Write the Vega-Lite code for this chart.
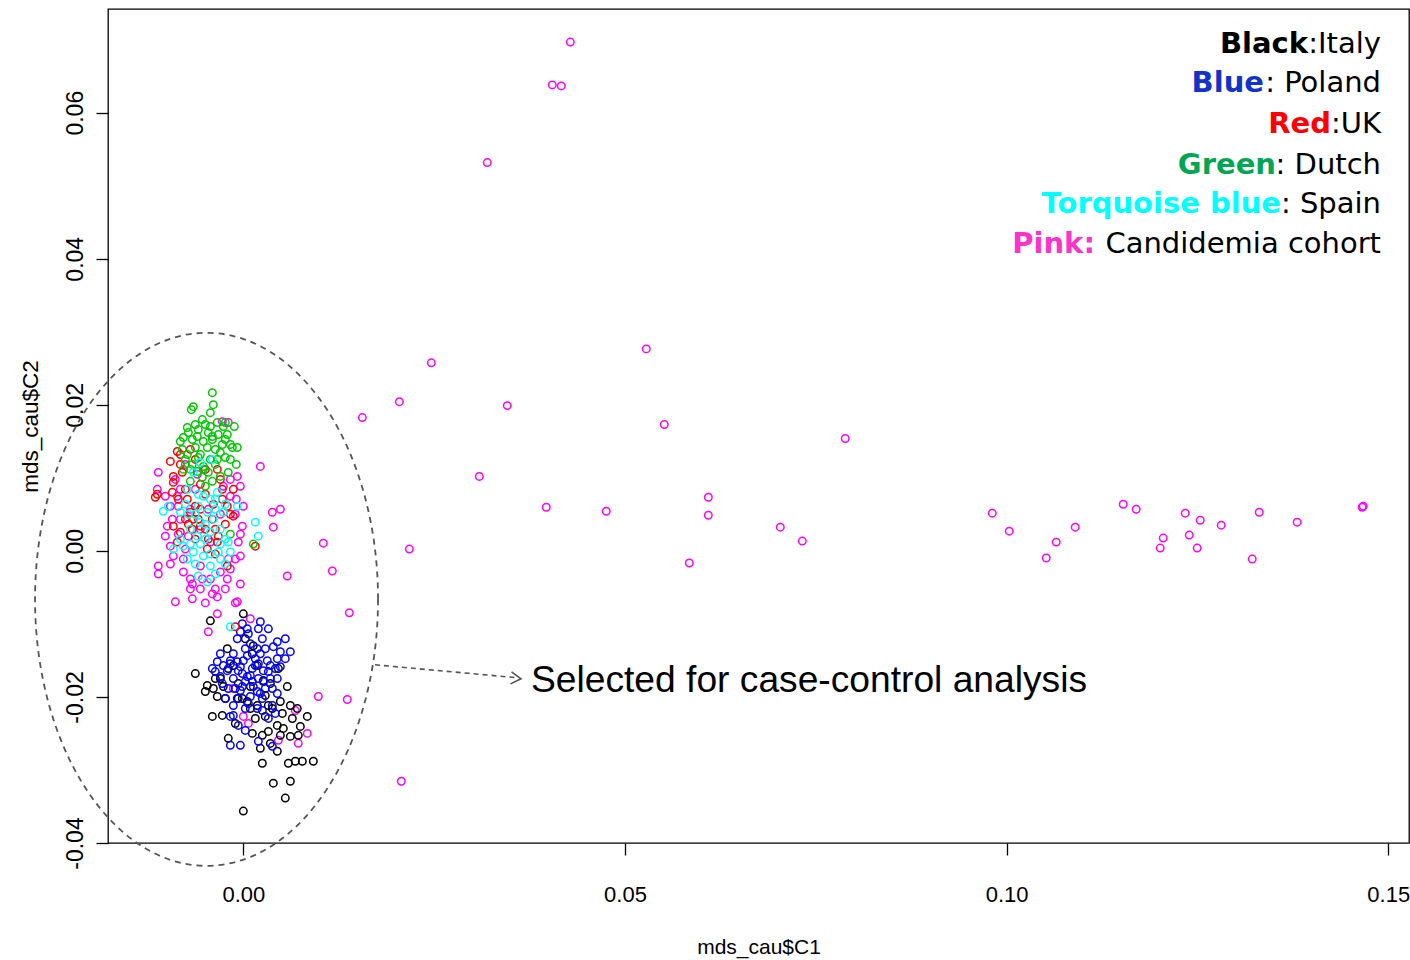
{
  "$schema": "https://vega.github.io/schema/vega-lite/v6.json",
  "width": 1301,
  "height": 834,
  "autosize": {"type": "none"},
  "padding": {"left": 108, "top": 9, "right": 1, "bottom": 117},
  "background": "white",
  "config": {
    "view": {"stroke": "#000000", "strokeWidth": 1.3},
    "axis": {"grid": false, "domain": false, "tickColor": "#000000", "tickWidth": 1.3, "tickSize": 12, "labelColor": "#000000", "titleColor": "#000000", "labelFont": "Liberation Sans, Arial, sans-serif", "titleFont": "Liberation Sans, Arial, sans-serif", "titleFontWeight": "normal", "labelOverlap": false, "labelFlush": false}
  },
  "datasets": {
    "pts": [
      {"x":0.04284,"y":0.06967,"g":"Candidemia"},{"x":0.04048,"y":0.06381,"g":"Candidemia"},{"x":0.04166,"y":0.06367,"g":"Candidemia"},{"x":0.03196,"y":0.05317,"g":"Candidemia"},{"x":0.02463,"y":0.02575,"g":"Candidemia"},{"x":0.05279,"y":0.02766,"g":"Candidemia"},{"x":0.02044,"y":0.02043,"g":"Candidemia"},{"x":0.01559,"y":0.01825,"g":"Candidemia"},{"x":0.03458,"y":0.01989,"g":"Candidemia"},{"x":0.05515,"y":0.0173,"g":"Candidemia"},{"x":0.03092,"y":0.0102,"g":"Candidemia"},{"x":0.03969,"y":0.00597,"g":"Candidemia"},{"x":0.04755,"y":0.00543,"g":"Candidemia"},{"x":0.05843,"y":-0.00166,"g":"Candidemia"},{"x":0.06092,"y":0.00734,"g":"Candidemia"},{"x":0.06092,"y":0.00488,"g":"Candidemia"},{"x":0.07035,"y":0.00325,"g":"Candidemia"},{"x":0.07323,"y":0.00134,"g":"Candidemia"},{"x":0.07886,"y":0.01539,"g":"Candidemia"},{"x":0.09812,"y":0.00516,"g":"Candidemia"},{"x":0.10035,"y":0.0027,"g":"Candidemia"},{"x":0.1065,"y":0.0012,"g":"Candidemia"},{"x":0.10519,"y":-0.00098,"g":"Candidemia"},{"x":0.10899,"y":0.00325,"g":"Candidemia"},{"x":0.11528,"y":0.00638,"g":"Candidemia"},{"x":0.11698,"y":0.0057,"g":"Candidemia"},{"x":0.12013,"y":0.00038,"g":"Candidemia"},{"x":0.12052,"y":0.00175,"g":"Candidemia"},{"x":0.1234,"y":0.00516,"g":"Candidemia"},{"x":0.12393,"y":0.00216,"g":"Candidemia"},{"x":0.12497,"y":0.00038,"g":"Candidemia"},{"x":0.12537,"y":0.0042,"g":"Candidemia"},{"x":0.12812,"y":0.00352,"g":"Candidemia"},{"x":0.13218,"y":-0.00112,"g":"Candidemia"},{"x":0.1331,"y":0.00529,"g":"Candidemia"},{"x":0.13807,"y":0.00393,"g":"Candidemia"},{"x":0.14659,"y":0.00597,"g":"Candidemia"},{"x":0.14672,"y":0.00611,"g":"Candidemia"},{"x":0.01048,"y":0.00106,"g":"Candidemia"},{"x":0.01166,"y":-0.00276,"g":"Candidemia"},{"x":0.02175,"y":0.00025,"g":"Candidemia"},{"x":0.00576,"y":-0.00344,"g":"Candidemia"},{"x":0.01389,"y":-0.00848,"g":"Candidemia"},{"x":0.00983,"y":-0.01994,"g":"Candidemia"},{"x":0.01362,"y":-0.02035,"g":"Candidemia"},{"x":0.0207,"y":-0.03154,"g":"Candidemia"},{"x":0.00223,"y":0.01157,"g":"Candidemia"},{"x":0.00485,"y":0.0057,"g":"Candidemia"},{"x":0.0038,"y":0.00529,"g":"Candidemia"},{"x":0.00393,"y":0.00325,"g":"Candidemia"},{"x":0.00838,"y":-0.02499,"g":"Candidemia"},{"x":0.0072,"y":-0.02635,"g":"Candidemia"},{"x":0.00459,"y":-0.02594,"g":"Candidemia"},{"x":0.00681,"y":-0.02185,"g":"Candidemia"},{"x":0,"y":-0.02267,"g":"Candidemia"},{"x":0.00066,"y":-0.02362,"g":"Candidemia"},{"x":-0.00131,"y":-0.01885,"g":"Candidemia"},{"x":-0.00668,"y":-0.00657,"g":"Candidemia"},{"x":-0.00498,"y":-0.00712,"g":"Candidemia"},{"x":-0.00105,"y":-0.00712,"g":"Candidemia"},{"x":-0.00341,"y":-0.00862,"g":"Candidemia"},{"x":0.00092,"y":-0.0093,"g":"Candidemia"},{"x":-0.00459,"y":-0.01108,"g":"Candidemia"},
      {"x":-0.01114,"y":0.01075,"g":"Candidemia"},{"x":-0.01127,"y":0.00843,"g":"Candidemia"},{"x":-0.01114,"y":-0.00207,"g":"Candidemia"},{"x":-0.01114,"y":-0.00316,"g":"Candidemia"},{"x":-0.00891,"y":-0.00698,"g":"Candidemia"},{"x":-0.00694,"y":-0.00521,"g":"Candidemia"},{"x":-0.00341,"y":-0.0063,"g":"Candidemia"},{"x":-0.00079,"y":-0.00698,"g":"Candidemia"},{"x":-0.00039,"y":-0.00453,"g":"Candidemia"},{"x":-0.0021,"y":-0.00385,"g":"Candidemia"},{"x":-0.00367,"y":-0.00521,"g":"Candidemia"},{"x":-0.00197,"y":-0.00112,"g":"Candidemia"},{"x":-0.00039,"y":-0.00071,"g":"Candidemia"},{"x":-0.00066,"y":0.0012,"g":"Candidemia"},{"x":-0.00013,"y":0.00338,"g":"Candidemia"},{"x":-0.00996,"y":0.00338,"g":"Candidemia"},{"x":-0.01022,"y":0.00202,"g":"Candidemia"},{"x":-0.00956,"y":0.00065,"g":"Candidemia"},{"x":-0.00917,"y":-0.00071,"g":"Candidemia"},{"x":-0.00786,"y":-0.00289,"g":"Candidemia"},{"x":-0.00694,"y":-0.00385,"g":"Candidemia"},{"x":-0.00537,"y":-0.00385,"g":"Candidemia"},{"x":-0.00891,"y":0.00979,"g":"Candidemia"},{"x":-0.00825,"y":0.00843,"g":"Candidemia"},{"x":-0.0017,"y":0.00979,"g":"Candidemia"},{"x":-0.00079,"y":0.0102,"g":"Candidemia"},{"x":-0.00039,"y":0.00884,"g":"Candidemia"},{"x":0,"y":0.00611,"g":"Candidemia"},{"x":-0.00197,"y":0.01757,"g":"Candidemia"},{"x":-0.00275,"y":0.0177,"g":"Candidemia"},{"x":-0.0093,"y":0.00434,"g":"Candidemia"},{"x":-0.00852,"y":0.00611,"g":"Candidemia"},{"x":-0.0072,"y":0.00202,"g":"Candidemia"},{"x":-0.00432,"y":0.0012,"g":"Candidemia"},{"x":-0.00301,"y":-0.00289,"g":"Candidemia"},{"x":-0.00563,"y":-0.00207,"g":"Candidemia"},{"x":-0.00786,"y":-0.00112,"g":"Candidemia"},{"x":-0.0017,"y":0.00747,"g":"Candidemia"},{"x":-0.00262,"y":0.00884,"g":"Candidemia"},{"x":-0.00629,"y":0.00843,"g":"Candidemia"},{"x":-0.00459,"y":0.0057,"g":"Candidemia"},{"x":-0.00694,"y":0.0057,"g":"Candidemia"},{"x":-0.00956,"y":0.00611,"g":"Candidemia"},{"x":-0.00865,"y":0.00747,"g":"Candidemia"},{"x":-0.00563,"y":0.00297,"g":"Candidemia"},{"x":-0.00301,"y":0.00502,"g":"Candidemia"},{"x":-0.0076,"y":0.00025,"g":"Candidemia"},{"x":-0.00105,"y":-0.00112,"g":"Candidemia"},{"x":-0.00432,"y":-0.00385,"g":"Candidemia"},{"x":-0.00236,"y":-0.00521,"g":"Candidemia"},{"x":-0.00825,"y":0.00434,"g":"Candidemia"},{"x":-0.00039,"y":0.00229,"g":"Candidemia"},{"x":-0.00105,"y":0.00502,"g":"Candidemia"},{"x":-0.00563,"y":-0.00521,"g":"Candidemia"},
      {"x":-0.0076,"y":0.01184,"g":"Candidemia"},{"x":-0.00852,"y":0.00229,"g":"Candidemia"},{"x":-0.00668,"y":-0.00453,"g":"Candidemia"},{"x":-0.0017,"y":-0.00248,"g":"Candidemia"},{"x":-0.00406,"y":-0.00589,"g":"Candidemia"},{"x":-0.00956,"y":-0.0018,"g":"Candidemia"},{"x":-0.00092,"y":0.00707,"g":"Candidemia"},{"x":-0.01022,"y":0.00748,"g":"Candidemia"},{"x":-0.00603,"y":0.01048,"g":"Candidemia"},
      {"x":0,"y":-0.00862,"g":"Italy"},{"x":-0.00432,"y":-0.00958,"g":"Italy"},{"x":-0.00629,"y":-0.0168,"g":"Italy"},{"x":-0.00472,"y":-0.01844,"g":"Italy"},{"x":-0.00498,"y":-0.01926,"g":"Italy"},{"x":-0.00341,"y":-0.01994,"g":"Italy"},{"x":-0.00406,"y":-0.02267,"g":"Italy"},{"x":-0.00275,"y":-0.02253,"g":"Italy"},{"x":-0.0021,"y":-0.01339,"g":"Italy"},{"x":-0.00197,"y":-0.01612,"g":"Italy"},{"x":-0.00066,"y":-0.01817,"g":"Italy"},{"x":0.00118,"y":-0.01408,"g":"Italy"},{"x":0.00092,"y":-0.01858,"g":"Italy"},{"x":0.00262,"y":-0.01776,"g":"Italy"},{"x":0.00354,"y":-0.01817,"g":"Italy"},{"x":0.00459,"y":-0.01612,"g":"Italy"},{"x":0.00576,"y":-0.01858,"g":"Italy"},{"x":0.00485,"y":-0.02062,"g":"Italy"},{"x":0.00616,"y":-0.02117,"g":"Italy"},{"x":0.00707,"y":-0.02158,"g":"Italy"},{"x":0.00838,"y":-0.02267,"g":"Italy"},{"x":0.00328,"y":-0.02117,"g":"Italy"},{"x":0.00183,"y":-0.02117,"g":"Italy"},{"x":0.00288,"y":-0.02267,"g":"Italy"},{"x":0.00445,"y":-0.0239,"g":"Italy"},{"x":0.00524,"y":-0.02431,"g":"Italy"},{"x":0.00328,"y":-0.02472,"g":"Italy"},{"x":0.00249,"y":-0.02526,"g":"Italy"},{"x":0.00118,"y":-0.02499,"g":"Italy"},{"x":0.00485,"y":-0.02526,"g":"Italy"},{"x":0.00616,"y":-0.0254,"g":"Italy"},{"x":0.0072,"y":-0.02526,"g":"Italy"},{"x":-0.00197,"y":-0.02567,"g":"Italy"},{"x":0.00445,"y":-0.02744,"g":"Italy"},{"x":0.00249,"y":-0.02908,"g":"Italy"},{"x":0.0059,"y":-0.02908,"g":"Italy"},{"x":0.00681,"y":-0.02881,"g":"Italy"},{"x":0.00773,"y":-0.02881,"g":"Italy"},{"x":0.00917,"y":-0.02881,"g":"Italy"},{"x":0.00393,"y":-0.03181,"g":"Italy"},{"x":0.00616,"y":-0.03154,"g":"Italy"},{"x":0.0055,"y":-0.03385,"g":"Italy"},{"x":0,"y":-0.03563,"g":"Italy"},{"x":-0.00079,"y":-0.02021,"g":"Italy"},{"x":0.00052,"y":-0.02062,"g":"Italy"},{"x":-0.00393,"y":-0.01885,"g":"Italy"},{"x":-0.00262,"y":-0.01858,"g":"Italy"},{"x":0.00026,"y":-0.01203,"g":"Italy"},{"x":0.00131,"y":-0.01299,"g":"Italy"},{"x":-0.00131,"y":-0.01571,"g":"Italy"},{"x":-0.00301,"y":-0.01749,"g":"Italy"},{"x":-0.00013,"y":-0.02021,"g":"Italy"},{"x":0.0038,"y":-0.02158,"g":"Italy"},{"x":0.00511,"y":-0.02226,"g":"Italy"},{"x":0.00092,"y":-0.02158,"g":"Italy"},{"x":0.00183,"y":-0.01571,"g":"Italy"},{"x":0.00288,"y":-0.01981,"g":"Italy"},
      {"x":-0.00236,"y":-0.02022,"g":"Italy"},{"x":-0.00105,"y":-0.02363,"g":"Italy"},{"x":0.00157,"y":-0.02295,"g":"Italy"},{"x":0.00354,"y":-0.02636,"g":"Italy"},{"x":0.00642,"y":-0.02295,"g":"Italy"},{"x":0.00747,"y":-0.02404,"g":"Italy"},{"x":-0.00367,"y":-0.01749,"g":"Italy"},{"x":0.00223,"y":-0.02704,"g":"Italy"},
      {"x":-0.00013,"y":-0.00998,"g":"Poland"},{"x":0.00223,"y":-0.00971,"g":"Poland"},{"x":0.00328,"y":-0.01067,"g":"Poland"},{"x":0.00066,"y":-0.01135,"g":"Poland"},{"x":-0.00079,"y":-0.01203,"g":"Poland"},{"x":0.00249,"y":-0.01203,"g":"Poland"},{"x":0.00445,"y":-0.01244,"g":"Poland"},{"x":0.0055,"y":-0.01203,"g":"Poland"},{"x":0.00616,"y":-0.0138,"g":"Poland"},{"x":0.00393,"y":-0.01312,"g":"Poland"},{"x":0.00183,"y":-0.01339,"g":"Poland"},{"x":0.00026,"y":-0.01339,"g":"Poland"},{"x":-0.00131,"y":-0.01408,"g":"Poland"},{"x":-0.00301,"y":-0.01408,"g":"Poland"},{"x":-0.00341,"y":-0.01517,"g":"Poland"},{"x":-0.0017,"y":-0.01503,"g":"Poland"},{"x":0,"y":-0.01503,"g":"Poland"},{"x":0.00157,"y":-0.01476,"g":"Poland"},{"x":0.00314,"y":-0.01503,"g":"Poland"},{"x":0.00445,"y":-0.01476,"g":"Poland"},{"x":0.00419,"y":-0.01612,"g":"Poland"},{"x":0.00262,"y":-0.0164,"g":"Poland"},{"x":0.00118,"y":-0.01612,"g":"Poland"},{"x":-0.00066,"y":-0.0164,"g":"Poland"},{"x":-0.0021,"y":-0.0164,"g":"Poland"},{"x":-0.00406,"y":-0.01612,"g":"Poland"},{"x":-0.00301,"y":-0.01721,"g":"Poland"},{"x":-0.00131,"y":-0.01749,"g":"Poland"},{"x":0.00052,"y":-0.01721,"g":"Poland"},{"x":0.00197,"y":-0.01749,"g":"Poland"},{"x":0.00354,"y":-0.01749,"g":"Poland"},{"x":0.00445,"y":-0.01953,"g":"Poland"},{"x":0.00288,"y":-0.01885,"g":"Poland"},{"x":0.00131,"y":-0.01858,"g":"Poland"},{"x":-0.00013,"y":-0.01858,"g":"Poland"},{"x":-0.00197,"y":-0.01885,"g":"Poland"},{"x":-0.00236,"y":-0.02021,"g":"Poland"},{"x":-0.00066,"y":-0.02021,"g":"Poland"},{"x":0.00092,"y":-0.01994,"g":"Poland"},{"x":0.00249,"y":-0.02021,"g":"Poland"},{"x":0.0038,"y":-0.02117,"g":"Poland"},{"x":0.00183,"y":-0.02158,"g":"Poland"},{"x":0.00026,"y":-0.02158,"g":"Poland"},{"x":-0.00131,"y":-0.02253,"g":"Poland"},{"x":-0.00066,"y":-0.0239,"g":"Poland"},{"x":0.00026,"y":-0.02458,"g":"Poland"},{"x":-0.0017,"y":-0.02663,"g":"Poland"},{"x":-0.00039,"y":-0.02663,"g":"Poland"},{"x":0.00197,"y":-0.02608,"g":"Poland"},{"x":0.0038,"y":-0.02676,"g":"Poland"},{"x":0.00419,"y":-0.02226,"g":"Poland"},{"x":0.00328,"y":-0.02294,"g":"Poland"},{"x":-0.0017,"y":-0.02267,"g":"Poland"},{"x":0.00092,"y":-0.01708,"g":"Poland"},{"x":0.00157,"y":-0.01571,"g":"Poland"},{"x":0.00052,"y":-0.01435,"g":"Poland"},{"x":0.00223,"y":-0.01408,"g":"Poland"},{"x":-0.00262,"y":-0.01571,"g":"Poland"},{"x":-0.00367,"y":-0.01653,"g":"Poland"},{"x":0.00262,"y":-0.0179,"g":"Poland"},{"x":-0.00013,"y":-0.0168,"g":"Poland"},{"x":-0.00079,"y":-0.01517,"g":"Poland"},{"x":0.00354,"y":-0.01571,"g":"Poland"},{"x":0.00445,"y":-0.01749,"g":"Poland"},{"x":0.00118,"y":-0.0179,"g":"Poland"},{"x":-0.00039,"y":-0.01912,"g":"Poland"},{"x":0.00183,"y":-0.01926,"g":"Poland"},{"x":-0.00131,"y":-0.02117,"g":"Poland"},{"x":0.00052,"y":-0.01067,"g":"Poland"},{"x":-0.00039,"y":-0.01108,"g":"Poland"},{"x":0.00197,"y":-0.01067,"g":"Poland"},{"x":0.00485,"y":-0.0138,"g":"Poland"},
      {"x":0.00092,"y":-0.01271,"g":"Poland"},{"x":0.00288,"y":-0.0134,"g":"Poland"},{"x":-0.00039,"y":-0.01585,"g":"Poland"},{"x":0.00197,"y":-0.01544,"g":"Poland"},{"x":0.00328,"y":-0.01653,"g":"Poland"},{"x":0.00026,"y":-0.0179,"g":"Poland"},{"x":0.00223,"y":-0.01953,"g":"Poland"},{"x":-0.00105,"y":-0.01885,"g":"Poland"},{"x":0.0038,"y":-0.01885,"g":"Poland"},{"x":0.00066,"y":-0.0209,"g":"Poland"},{"x":-0.0017,"y":-0.01544,"g":"Poland"},{"x":-0.00275,"y":-0.01817,"g":"Poland"},{"x":0.00249,"y":-0.02185,"g":"Poland"},{"x":0.00485,"y":-0.01585,"g":"Poland"},{"x":0.0055,"y":-0.01476,"g":"Poland"},
      {"x":-0.01153,"y":0.00734,"g":"UK"},{"x":-0.01127,"y":0.00775,"g":"UK"},{"x":-0.00956,"y":0.01225,"g":"UK"},{"x":-0.00865,"y":0.01361,"g":"UK"},{"x":-0.00917,"y":0.00938,"g":"UK"},{"x":-0.0093,"y":0.00802,"g":"UK"},{"x":-0.00825,"y":0.01184,"g":"UK"},{"x":-0.00799,"y":0.01075,"g":"UK"},{"x":-0.00917,"y":0.0102,"g":"UK"},{"x":-0.00734,"y":0.00707,"g":"UK"},{"x":-0.00694,"y":0.00529,"g":"UK"},{"x":-0.00655,"y":0.00434,"g":"UK"},{"x":-0.00825,"y":0.00256,"g":"UK"},{"x":-0.00865,"y":0.0012,"g":"UK"},{"x":-0.00563,"y":0.00338,"g":"UK"},{"x":-0.00341,"y":0.0012,"g":"UK"},{"x":-0.00328,"y":0.00202,"g":"UK"},{"x":-0.00131,"y":0.00843,"g":"UK"},{"x":-0.00131,"y":0.00475,"g":"UK"},{"x":-0.0021,"y":-0.00207,"g":"UK"},{"x":0.00157,"y":0.00065,"g":"UK"},{"x":-0.00341,"y":0.01116,"g":"UK"},{"x":-0.00301,"y":0.00979,"g":"UK"},{"x":-0.00917,"y":0.00338,"g":"UK"},{"x":-0.00629,"y":0.00611,"g":"UK"},{"x":-0.0076,"y":0.00434,"g":"UK"},{"x":-0.00472,"y":0.00025,"g":"UK"},{"x":-0.0021,"y":0.00611,"g":"UK"},{"x":-0.00105,"y":-0.01039,"g":"UK"},{"x":-0.00563,"y":0.0057,"g":"UK"},{"x":-0.00498,"y":0.00297,"g":"UK"},{"x":-0.00406,"y":0.00434,"g":"UK"},{"x":-0.00498,"y":0.00775,"g":"UK"},{"x":-0.00393,"y":0.00638,"g":"UK"},{"x":-0.0059,"y":0.00434,"g":"UK"},{"x":-0.00236,"y":0.00366,"g":"UK"},{"x":-0.00629,"y":0.00161,"g":"UK"},{"x":-0.00367,"y":-0.00044,"g":"UK"},{"x":-0.0072,"y":0.00366,"g":"UK"},{"x":-0.00498,"y":0.01116,"g":"UK"},{"x":-0.00629,"y":0.01252,"g":"UK"},{"x":-0.0017,"y":0.00502,"g":"UK"},{"x":-0.00275,"y":0.00707,"g":"UK"},{"x":-0.00459,"y":0.00161,"g":"UK"},
      {"x":-0.0076,"y":0.00843,"g":"UK"},{"x":-0.00563,"y":0.00911,"g":"UK"},{"x":-0.00852,"y":0.00707,"g":"UK"},{"x":-0.00668,"y":0.00297,"g":"UK"},{"x":-0.00367,"y":0.00297,"g":"UK"},{"x":-0.00275,"y":0.00843,"g":"UK"},{"x":-0.00825,"y":0.0132,"g":"UK"},{"x":-0.00694,"y":0.01389,"g":"UK"},
      {"x":-0.00406,"y":0.02166,"g":"Dutch"},{"x":-0.00681,"y":0.01934,"g":"Dutch"},{"x":-0.00655,"y":0.01975,"g":"Dutch"},{"x":-0.00432,"y":0.01893,"g":"Dutch"},{"x":-0.00236,"y":0.01757,"g":"Dutch"},{"x":-0.00118,"y":0.01702,"g":"Dutch"},{"x":-0.00537,"y":0.01798,"g":"Dutch"},{"x":-0.00734,"y":0.01689,"g":"Dutch"},{"x":-0.0059,"y":0.01661,"g":"Dutch"},{"x":-0.00459,"y":0.0162,"g":"Dutch"},{"x":-0.00328,"y":0.01593,"g":"Dutch"},{"x":-0.00786,"y":0.01552,"g":"Dutch"},{"x":-0.00668,"y":0.01525,"g":"Dutch"},{"x":-0.00524,"y":0.01498,"g":"Dutch"},{"x":-0.00406,"y":0.01525,"g":"Dutch"},{"x":-0.00275,"y":0.01457,"g":"Dutch"},{"x":-0.00825,"y":0.01498,"g":"Dutch"},{"x":-0.00144,"y":0.01416,"g":"Dutch"},{"x":-0.00079,"y":0.01416,"g":"Dutch"},{"x":-0.00629,"y":0.01416,"g":"Dutch"},{"x":-0.00472,"y":0.01416,"g":"Dutch"},{"x":-0.00301,"y":0.01348,"g":"Dutch"},{"x":-0.00734,"y":0.0132,"g":"Dutch"},{"x":-0.0059,"y":0.01279,"g":"Dutch"},{"x":-0.00432,"y":0.01252,"g":"Dutch"},{"x":-0.00668,"y":0.01184,"g":"Dutch"},{"x":-0.00524,"y":0.01157,"g":"Dutch"},{"x":-0.00367,"y":0.01184,"g":"Dutch"},{"x":-0.00603,"y":0.01088,"g":"Dutch"},{"x":-0.00459,"y":0.01075,"g":"Dutch"},{"x":-0.00197,"y":0.01075,"g":"Dutch"},{"x":-0.00301,"y":0.0102,"g":"Dutch"},{"x":-0.00537,"y":0.01007,"g":"Dutch"},{"x":-0.00694,"y":0.00952,"g":"Dutch"},{"x":-0.00406,"y":0.00952,"g":"Dutch"},{"x":-0.00786,"y":0.01116,"g":"Dutch"},{"x":-0.00799,"y":0.01389,"g":"Dutch"},{"x":-0.00498,"y":0.00884,"g":"Dutch"},{"x":-0.0017,"y":0.00229,"g":"Dutch"},{"x":0.00131,"y":0.00093,"g":"Dutch"},{"x":-0.0072,"y":0.0162,"g":"Dutch"},{"x":-0.0021,"y":0.01593,"g":"Dutch"},{"x":-0.00341,"y":0.01757,"g":"Dutch"},{"x":-0.00262,"y":0.01702,"g":"Dutch"},{"x":-0.00393,"y":0.02002,"g":"Dutch"},{"x":-0.00092,"y":0.01184,"g":"Dutch"},{"x":-0.00629,"y":0.0173,"g":"Dutch"},{"x":-0.00236,"y":0.01279,"g":"Dutch"},{"x":-0.00563,"y":0.0132,"g":"Dutch"},{"x":-0.00367,"y":0.01389,"g":"Dutch"},{"x":-0.00694,"y":0.01116,"g":"Dutch"},{"x":-0.00236,"y":0.01525,"g":"Dutch"},{"x":-0.00498,"y":0.0173,"g":"Dutch"},{"x":-0.0017,"y":0.01252,"g":"Dutch"},
      {"x":-0.00603,"y":0.01566,"g":"Dutch"},{"x":-0.00432,"y":0.01703,"g":"Dutch"},{"x":-0.0076,"y":0.01252,"g":"Dutch"},{"x":-0.00341,"y":0.01252,"g":"Dutch"},{"x":-0.0017,"y":0.01457,"g":"Dutch"},{"x":-0.00524,"y":0.01116,"g":"Dutch"},{"x":-0.00406,"y":0.01566,"g":"Dutch"},
      {"x":-0.01048,"y":0.00543,"g":"Spain"},{"x":-0.00983,"y":0.00611,"g":"Spain"},{"x":0.00157,"y":0.00393,"g":"Spain"},{"x":0.00197,"y":0.00202,"g":"Spain"},{"x":-0.00079,"y":0.00611,"g":"Spain"},{"x":-0.0059,"y":0.00611,"g":"Spain"},{"x":-0.00472,"y":0.00529,"g":"Spain"},{"x":-0.00393,"y":0.00434,"g":"Spain"},{"x":-0.00563,"y":0.00393,"g":"Spain"},{"x":-0.00694,"y":0.00297,"g":"Spain"},{"x":-0.00603,"y":0.00202,"g":"Spain"},{"x":-0.00432,"y":0.00256,"g":"Spain"},{"x":-0.00301,"y":0.00297,"g":"Spain"},{"x":-0.00786,"y":0.00065,"g":"Spain"},{"x":-0.00655,"y":-0.00016,"g":"Spain"},{"x":-0.00734,"y":-0.00112,"g":"Spain"},{"x":-0.00524,"y":-0.00071,"g":"Spain"},{"x":-0.00432,"y":-0.00207,"g":"Spain"},{"x":-0.0059,"y":-0.00344,"g":"Spain"},{"x":-0.00472,"y":-0.00426,"g":"Spain"},{"x":-0.00328,"y":-0.00016,"g":"Spain"},{"x":-0.00655,"y":0.01075,"g":"Spain"},{"x":-0.00734,"y":0.00843,"g":"Spain"},{"x":-0.00524,"y":0.00747,"g":"Spain"},{"x":-0.00341,"y":0.00802,"g":"Spain"},{"x":-0.00825,"y":0.00529,"g":"Spain"},{"x":-0.00917,"y":0.00025,"g":"Spain"},{"x":-0.00262,"y":0.00529,"g":"Spain"},{"x":-0.00197,"y":0.0012,"g":"Spain"},{"x":-0.0017,"y":-0.00016,"g":"Spain"},{"x":-0.00406,"y":0.01252,"g":"Spain"},{"x":-0.00563,"y":0.01211,"g":"Spain"},{"x":-0.0017,"y":-0.01039,"g":"Spain"},{"x":-0.00367,"y":0.00707,"g":"Spain"},{"x":-0.00236,"y":0.00161,"g":"Spain"},{"x":-0.00498,"y":0.00366,"g":"Spain"},{"x":-0.00367,"y":0.0057,"g":"Spain"},{"x":-0.00694,"y":0.00093,"g":"Spain"},{"x":-0.00301,"y":0.00093,"g":"Spain"},{"x":-0.00563,"y":0.00093,"g":"Spain"},{"x":-0.00432,"y":0.00707,"g":"Spain"},{"x":-0.00236,"y":-0.0018,"g":"Spain"},{"x":-0.00629,"y":-0.0018,"g":"Spain"},{"x":-0.0076,"y":0.00638,"g":"Spain"},{"x":-0.00367,"y":-0.00316,"g":"Spain"},
      {"x":-0.00629,"y":0.00502,"g":"Spain"},{"x":-0.00498,"y":0.00161,"g":"Spain"},{"x":-0.0072,"y":0.00502,"g":"Spain"},{"x":-0.00236,"y":0.00638,"g":"Spain"},{"x":-0.00825,"y":0.00161,"g":"Spain"},{"x":-0.00432,"y":-0.00044,"g":"Spain"},{"x":-0.0059,"y":0.00775,"g":"Spain"},{"x":-0.00301,"y":-0.00112,"g":"Spain"}
    ],
    "leg": [
      {"x":0.13949,"y":0.06813,"k":"Black","r":":Italy"},
      {"x":0.13372,"y":0.06279,"k":"Blue","r":": Poland"},
      {"x":0.1425,"y":0.05726,"k":"Red","r":":UK"},
      {"x":0.13529,"y":0.05157,"k":"Green","r":": Dutch"},
      {"x":0.13595,"y":0.04623,"k":"Torquoise blue","r":": Spain"},
      {"x":0.11158,"y":0.04076,"k":"Pink:","r":"Candidemia cohort"}
    ]
  },
  "encoding": {
    "x": {"field": "x", "type": "quantitative", "scale": {"domain": [-0.01773, 0.15272], "nice": false, "zero": false},
      "axis": {"values": [0, 0.05, 0.1, 0.15], "labelExpr": "(datum.value < 0 ? '-' : '') + format(abs(datum.value), '.2f')", "labelFontSize": 22, "labelBaseline": "alphabetic", "labelPadding": 46, "title": "mds_cau$C1", "titleFontSize": 21, "titleX": 650.5, "titleY": 110, "titleAlign": "center", "titleBaseline": "alphabetic"}},
    "y": {"field": "y", "type": "quantitative", "scale": {"domain": [-0.04, 0.0742], "nice": false, "zero": false},
      "axis": {"values": [-0.04, -0.02, 0, 0.02, 0.04, 0.06], "labelExpr": "(datum.value < 0 ? '-' : '') + format(abs(datum.value), '.2f')", "labelFontSize": 23, "labelAngle": 270, "labelAlign": "center", "labelBaseline": "alphabetic", "labelPadding": 14, "title": "mds_cau$C2", "titleFontSize": 22.5, "titleAngle": 270, "titleX": -71, "titleY": 417, "titleAlign": "center", "titleBaseline": "alphabetic"}}
  },
  "layer": [
    {
      "data": {"name": "pts"},
      "mark": {"type": "point", "shape": "circle", "filled": false, "size": 56, "strokeWidth": 1.5, "opacity": 1},
      "encoding": {
        "color": {"field": "g", "type": "nominal", "legend": null,
          "scale": {"domain": ["Candidemia", "Italy", "Poland", "UK", "Dutch", "Spain"], "range": ["#FF00FF", "#000000", "#0000FF", "#FF0000", "#00C800", "#00FFFF"]}}
      }
    },
    {
      "data": {"values": [{"x": -0.00482, "y": -0.00663}]},
      "mark": {"type": "point", "shape": "M 0.6435,0 C 0.6435,0.5523 0.3554,1 0,1 C -0.3554,1 -0.6435,0.5523 -0.6435,0 C -0.6435,-0.5523 -0.3554,-1 0,-1 C 0.3554,-1 0.6435,-0.5523 0.6435,0 Z", "size": 284089, "filled": false, "color": "#555555", "strokeWidth": 1.8, "strokeDash": [6, 5], "opacity": 1}
    },
    {
      "data": {"values": [{"x": 0.01725, "y": -0.0156}, {"x": 0.03586, "y": -0.01737}]},
      "mark": {"type": "line", "color": "#555555", "strokeWidth": 1.6, "strokeDash": [5, 4]},
      "encoding": {"x": {"field": "x", "type": "quantitative"}, "y": {"field": "y", "type": "quantitative"}}
    },
    {
      "data": {"values": [{"x": 0.03638, "y": -0.01751}]},
      "mark": {"type": "point", "shape": "M -1,-0.6 L 0,0 L -1,0.6", "size": 400, "filled": false, "color": "#555555", "strokeWidth": 1.6, "angle": 5, "opacity": 1}
    },
    {
      "data": {"values": [{"x": 0.03769, "y": -0.01929, "t": "Selected for case-control analysis"}]},
      "mark": {"type": "text", "align": "left", "baseline": "alphabetic", "font": "Liberation Sans, Arial, sans-serif", "fontSize": 37.2, "color": "#000000"},
      "encoding": {"text": {"field": "t"}}
    },
    {
      "data": {"name": "leg"},
      "mark": {"type": "text", "align": "right", "baseline": "alphabetic", "font": "DejaVu Sans", "fontSize": 29, "fontWeight": "bold"},
      "encoding": {
        "text": {"field": "k"},
        "color": {"field": "k", "type": "nominal", "legend": null,
          "scale": {"domain": ["Black", "Blue", "Red", "Green", "Torquoise blue", "Pink:"], "range": ["#000000", "#1233C8", "#FF0000", "#00A651", "#00FFFF", "#FF33CC"]}}
      }
    },
    {
      "data": {"name": "leg"},
      "mark": {"type": "text", "align": "right", "baseline": "alphabetic", "font": "DejaVu Sans", "fontSize": 29, "color": "#000000"},
      "encoding": {"text": {"field": "r"}, "x": {"datum": 0.14905, "type": "quantitative"}}
    }
  ],
  "resolve": {"scale": {"color": "independent"}}
}
